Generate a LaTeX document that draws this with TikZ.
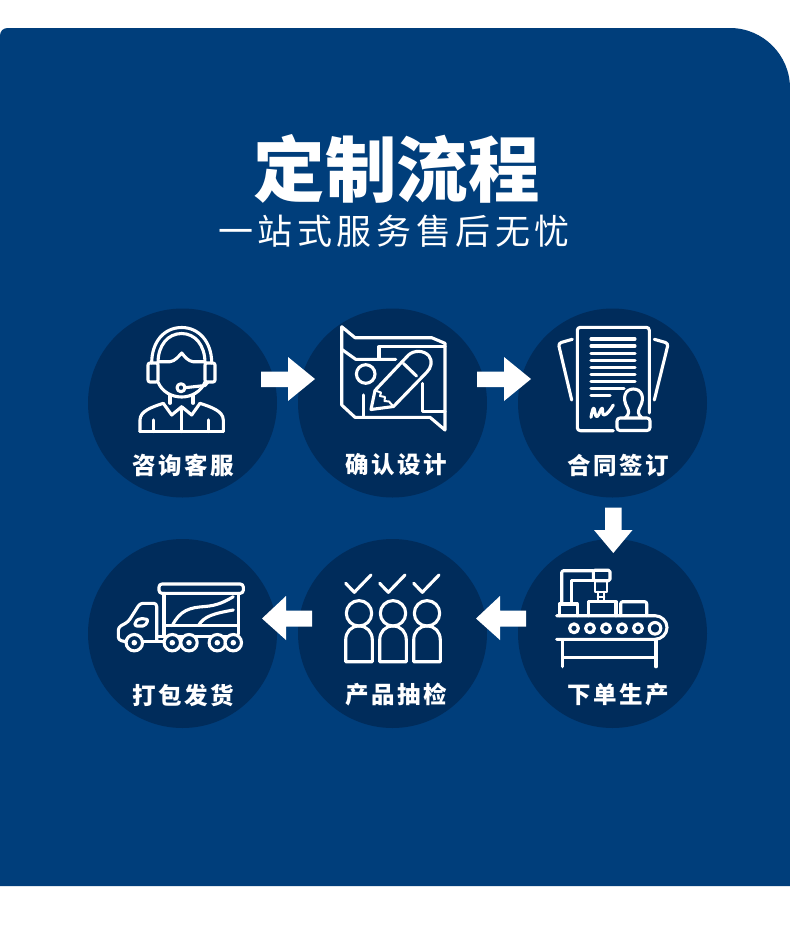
\documentclass[tikz,border=0pt]{standalone}
\usepackage{fontspec}
\setmainfont{Noto Sans CJK SC}
\newfontfamily\titlefont{Noto Sans CJK SC Black}
\newfontfamily\subfont[LetterSpace=13]{Noto Sans CJK SC}
\newfontfamily\labelfont[LetterSpace=11]{Noto Sans CJK SC Black}
\definecolor{cardblue}{HTML}{003E7B}
\definecolor{discblue}{HTML}{002C5B}
\tikzset{
  disc/.style={circle,fill=discblue,minimum size=189pt,inner sep=0pt,draw=none},
  steplabel/.style={text=white,inner sep=0pt,font=\labelfont\fontsize{23.5}{23.5}\selectfont},
  blockarrow/.style={fill=white,draw=none},
  ico/.style={draw=white,line width=3.1pt,line join=round,line cap=round}
}
\begin{document}
\begin{tikzpicture}[x=1pt,y=-1pt]
\useasboundingbox (0,0) rectangle (790,948);
\fill[white] (0,0) rectangle (790,948);
\fill[cardblue] (0,886) -- (0,36) .. controls (0,31) and (3,28) .. (8,28) -- (730,28) .. controls (763,28) and (790,55) .. (790,88) -- (790,886) -- cycle;

\node[text=white,inner sep=0pt,font=\titlefont\fontsize{71.5}{72}\selectfont] (title) at (396.5,169) {定制流程};
\node[text=white,inner sep=0pt,font=\subfont\fontsize{35}{35}\selectfont] (subtitle) at (394,231) {一站式服务售后无忧};

\node[disc] (c1) at (182.5,403) {};
\node[disc] (c2) at (392.5,403) {};
\node[disc] (c3) at (612.5,403) {};
\node[disc] (c4) at (612.5,633.5) {};
\node[disc] (c5) at (392.5,633.5) {};
\node[disc] (c6) at (182.5,633.5) {};

\node[steplabel] (l1) at (183.5,465) {咨询客服};
\node[steplabel] (l2) at (396,465) {确认设计};
\node[steplabel] (l3) at (618,465) {合同签订};
\node[steplabel] (l4) at (618,695) {下单生产};
\node[steplabel] (l5) at (396,695) {产品抽检};
\node[steplabel] (l6) at (183,695) {打包发货};

% block arrows
\fill[blockarrow] (261,371.5)--(288,371.5)--(288,357)--(315,379)--(288,401)--(288,387)--(261,387)--cycle;
\fill[blockarrow] (477,371.5)--(504,371.5)--(504,357)--(531,379)--(504,401)--(504,387)--(477,387)--cycle;
\fill[blockarrow] (605,507.5)--(621.5,507.5)--(621.5,530)--(632.5,530)--(613.3,553)--(594,530)--(605,530)--cycle;
\fill[blockarrow] (526,610.5)--(500,610.5)--(500,596)--(476,618.5)--(500,640)--(500,626.5)--(526,626.5)--cycle;
\fill[blockarrow] (312,610.5)--(286,610.5)--(286,596)--(262,618.5)--(286,640)--(286,626.5)--(312,626.5)--cycle;

% icon 1: agent
\begin{scope}[ico]
\draw (151.7,363) .. controls (151.7,342) and (164,327.5) .. (181.7,327.5) .. controls (199,327.5) and (211.7,342) .. (211.7,363);
\draw (158,363) .. controls (158,345) and (168,333.5) .. (181.7,333.5) .. controls (195,333.5) and (205,345) .. (205,363);
\draw[rounded corners=2pt] (158,363) -- (148,363) -- (148,382) -- (158,382) -- cycle;
\draw[rounded corners=2pt] (205,363) -- (215,363) -- (215,382) -- (205,382) -- cycle;
\draw (158,382) .. controls (162,392) and (172,397) .. (181.7,397) .. controls (191,397) and (201,392) .. (205,382);
\draw (158,361.7) -- (170,361.7) .. controls (175,361) and (178,357) .. (181.7,353) .. controls (185,357) and (188,361) .. (193,361.7) -- (205,361.7);
\draw (181,387.7) circle[radius=4pt];
\draw (185,387.7) -- (205,385.5) -- (208,382);
\draw (170,395) -- (170,403.3);
\draw (193,395) -- (193,403.3);
\draw (163.3,403.3) -- (171.7,415) -- (181.7,406.7) -- (191.7,415) -- (200,403.3);
\draw (140,431.5) -- (140,420) .. controls (140,411) and (152,407) .. (163.3,403.3);
\draw (223.3,431.5) -- (223.3,420) .. controls (223.3,411) and (211,407) .. (200,403.3);
\draw (140,431.5) -- (223.3,431.5);
\draw (181.7,406.7) -- (181.7,431.5);
\draw (153.3,420) -- (153.3,431.5);
\draw (208.3,420) -- (208.3,431.5);
\end{scope}

% icon 2: plan and pencil
\begin{scope}[ico]
\draw (341.7,326.7) -- (355,337.7) -- (431.7,337.7) -- (445,343.3) -- (445,430) -- (430,417.3) -- (355,417.3) -- (341.7,405) -- cycle;
\draw (341.7,349.3) -- (355.7,359.3) -- (395.7,359.3);
\draw (379,359.3) -- (379,346.7) -- (445,346.7);
\draw (365.7,374) circle[radius=9.3pt];
\draw (363.3,395) -- (363.3,417.3);
\draw (422.3,383.3) -- (422.3,411.7) -- (445,411.7);
\draw (371,409.5) -- (375,390.5) -- (408.5,355) .. controls (414,350) and (424,350) .. (429,356) .. controls (433,361) and (431,368) .. (427,372) -- (393.5,406.5) -- cycle;
\draw (403.5,363.5) -- (416.5,376);
\draw[line width=2pt] (375,390.5) -- (381,392.5) -- (380,396) -- (385,397) -- (384.5,401) -- (389,401.5) -- (393.5,406.5);
\end{scope}

% icon 3: contract and stamp
\begin{scope}[ico]
\draw[rounded corners=3pt] (613.3,430.7) -- (577.3,430.7) -- (577.3,327.3) -- (649.3,327.3) -- (649.3,413);
\foreach \yy in {339,346,353.3,360.3,367.3,374.3,381.3} \draw (591,\yy) -- (635,\yy);
\draw (591,388.3) -- (624,388.3);
\draw (591,395.3) -- (610,395.3);
\draw[rounded corners=3pt] (572.3,339.3) -- (558.3,343.3) -- (571.7,400);
\draw[rounded corners=3pt] (654.3,339.3) -- (668.3,343.3) -- (654.3,400);
\draw (591,417.3) .. controls (592,412) and (593,407) .. (594,408.3) .. controls (595,410) and (595,417) .. (597,416.7) .. controls (599,416) and (601,407) .. (602.3,408.3) .. controls (603,410) and (602,415) .. (604,415) .. controls (607,415) and (611,409) .. (613.3,405);
\draw (625,418) .. controls (630,414) and (629,411) .. (627,407) .. controls (622,398) and (625,389) .. (633.3,389) .. controls (642,389) and (645,398) .. (640,407) .. controls (638,411) and (637,414) .. (642,418);
\draw[rounded corners=3pt] (617,418) rectangle (650,430.5);
\end{scope}

% icon 4: production line
\begin{scope}[ico]
\draw (556.7,615.7) -- (655,615.7) .. controls (661.5,615.7) and (667,621) .. (667,627.5) .. controls (667,634) and (661.5,639.3) .. (655,639.3) -- (556.7,639.3);
\foreach \xx in {574,590,606,622,638} \draw (\xx,628.3) circle[radius=4.4pt];
\draw (655,628.3) circle[radius=5.8pt];
\draw (562.7,640) -- (562.7,666.7);
\draw (656,640) -- (656,666.7);
\draw (562.7,657.3) -- (656,657.3);
\draw (559.3,615.7) -- (559.3,604) -- (577.3,604) -- (577.3,615.7);
\draw (588.3,615.7) -- (588.3,601.7) -- (616,601.7) -- (616,615.7);
\draw[rounded corners=2pt] (620.7,615.7) -- (620.7,601.7) -- (646.7,601.7) -- (646.7,615.7);
\draw[rounded corners=2pt] (561.7,604) -- (561.7,570.7) -- (593.3,570.7);
\draw (571.7,604) -- (571.7,580.7) -- (593.3,580.7);
\draw[rounded corners=1.5pt] (593.3,570.2) rectangle (610,580.7);
\draw[line width=2.3pt] (595,580.7) -- (595,591.7) -- (606.7,591.7) -- (606.7,580.7);
\draw[line width=2.3pt] (597.7,591.7) -- (597.7,601.7);
\draw[line width=2.3pt] (604.3,591.7) -- (604.3,601.7);
\draw[line width=2.3pt] (597.7,596.7) -- (604.3,596.7);
\end{scope}

% icon 5: inspected people
\begin{scope}[ico]
\foreach \dx in {0,34,68} {
  \draw (345.7+\dx,583.3) -- (354.3+\dx,592.3) -- (371+\dx,575);
  \draw (359+\dx,613.3) circle[radius=12.7pt];
  \draw (345.7+\dx,640) .. controls (345.7+\dx,632) and (351+\dx,626) .. (359+\dx,626) .. controls (367+\dx,626) and (372.3+\dx,632) .. (372.3+\dx,640) -- (372.3+\dx,661.7) -- (345.7+\dx,661.7) -- cycle;
}
\end{scope}

% icon 6: truck
\begin{scope}[ico]
\draw[rounded corners=3pt] (159,584) rectangle (243.3,593.3);
\draw (164,593.3) -- (164,636.7);
\draw (238.3,593.3) -- (238.3,634);
\draw (164,625.7) -- (238.3,625.7);
\draw (172.3,625.7) .. controls (180,610) and (190,607.5) .. (205,606.5) .. controls (218,605.5) and (226,601) .. (233.3,596.7);
\draw (198.3,625.7) .. controls (204,616) and (214,613.5) .. (233.3,610);
\draw[rounded corners=3pt] (156.7,640) -- (156.7,603.3) -- (140,603.3) -- (128.3,621.7) -- (118.3,627.3) -- (118.3,640) -- (125.7,641.7);
\draw (143,641.7) -- (164,641.7);
\draw (156.7,636.7) -- (238.3,636.7);
\draw[rounded corners=2pt] (135,621.7) -- (140,618.3) -- (148.3,619.5) -- (145,626) -- (135,626) -- cycle;
\foreach \xx in {134.3,172.3,189,217.3,233.3} {
  \draw[fill=discblue] (\xx,642.7) circle[radius=8.2pt];
  \fill[white] (\xx,642.7) circle[radius=2.8pt];
}
\end{scope}
\end{tikzpicture}
\end{document}
